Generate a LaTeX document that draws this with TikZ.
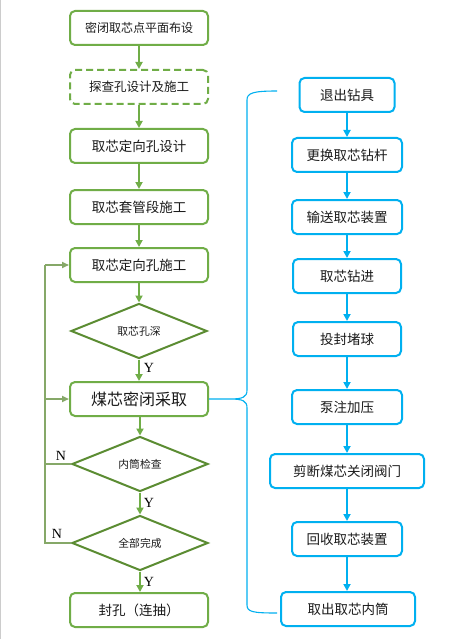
\documentclass[tikz,border=0pt]{standalone}
\usepackage{fontspec}
\setmainfont{Noto Sans CJK SC}
\newfontfamily\tnr{Liberation Serif}
\usetikzlibrary{shapes.geometric,arrows.meta}
\definecolor{gbox}{HTML}{70AD47}
\definecolor{gdia}{HTML}{5B8C32}
\definecolor{gloop}{HTML}{86A868}
\definecolor{bbox}{HTML}{00B0F0}
\definecolor{txt}{HTML}{1A1A1A}
\tikzset{
  gstep/.style={draw=gbox,line width=2pt,rounded corners=5pt,minimum width=138pt,minimum height=34pt,inner sep=0pt,text=txt,fill=white},
  gdiam/.style={draw=gdia,line width=2pt,diamond,aspect=2.5,minimum width=136pt,minimum height=55pt,inner sep=0pt,text=txt,font=\fontsize{10.8}{12}\selectfont},
  bstep/.style={draw=bbox,line width=2pt,rounded corners=5pt,minimum height=34pt,inner sep=0pt,text=txt,font=\fontsize{13.5}{16}\selectfont},
  garr/.style={draw=gbox,line width=2pt,-{Triangle[width=7pt,length=7pt]}},
  barr/.style={draw=bbox,line width=2pt,-{Triangle[width=7pt,length=7pt]}},
  gloopl/.style={draw=gloop,line width=1.6pt},
  lbl/.style={font=\tnr\fontsize{14}{16}\selectfont,text=black,inner sep=0pt},
}
\begin{document}
\begin{tikzpicture}[x=1pt,y=-1pt]
\useasboundingbox (0,0) rectangle (452,639);
\fill[white] (0,0) rectangle (452,639);
\draw[gray!40,line width=1pt] (0.5,0) -- (0.5,639);
% left column
\node[gstep,font=\fontsize{12}{14}\selectfont] (b1) at (139,28) {密闭取芯点平面布设};
\node[gstep,dashed,dash pattern=on 7pt off 4pt,font=\fontsize{12.5}{14}\selectfont] (b2) at (139,87) {探查孔设计及施工};
\node[gstep,font=\fontsize{13.5}{16}\selectfont] (b3) at (139,146) {取芯定向孔设计};
\node[gstep,font=\fontsize{13.5}{16}\selectfont] (b4) at (139,207) {取芯套管段施工};
\node[gstep,font=\fontsize{13.5}{16}\selectfont] (b5) at (139,265) {取芯定向孔施工};
\node[gdiam] (d1) at (139,331) {取芯孔深};
\node[gstep,font=\fontsize{16}{18}\selectfont] (b6) at (139,399) {煤芯密闭采取};
\node[gdiam] (d2) at (140,464) {内筒检查};
\node[gdiam] (d3) at (140,543) {全部完成};
\node[gstep,font=\fontsize{13.5}{16}\selectfont] (b7) at (139,610) {封孔（连抽）};
\draw[garr] (b1) -- (b2);
\draw[garr] (b2) -- (b3);
\draw[garr] (b3) -- (b4);
\draw[garr] (b4) -- (b5);
\draw[garr] (b5) -- (d1);
\draw[garr] (d1.south -| b6.north) -- (b6.north);
\draw[garr] (b6.south -| d2.north) -- (d2.north);
\draw[garr] (d2) -- (d3);
\draw[garr] (d3.south) -- (d3.south |- b7.north);
% loop
\coordinate (lx) at (45,0);
\draw[gloopl] (d3.west) -- (d3.west -| lx) -- (b5.west -| lx);
\draw[gloopl] (d2.west) -- (d2.west -| lx);
\draw[gloopl,-{Triangle[width=6pt,length=7pt]}] (b5.west -| lx) -- (b5.west);
\draw[gloopl,-{Triangle[width=6pt,length=7pt]}] (b6.west -| lx) -- (b6.west);
\node[lbl] (y1) at (149,368) {Y};
\node[lbl] (y2) at (149,503) {Y};
\node[lbl] (y3) at (149,582) {Y};
\node[lbl] (n1) at (61,456) {N};
\node[lbl] (n2) at (57,534) {N};
% right column
\node[bstep,minimum width=95pt] (r1) at (347,95) {退出钻具};
\node[bstep,minimum width=110pt] (r2) at (347,155) {更换取芯钻杆};
\node[bstep,minimum width=110pt] (r3) at (347,217) {输送取芯装置};
\node[bstep,minimum width=108pt] (r4) at (347,276) {取芯钻进};
\node[bstep,minimum width=108pt] (r5) at (347,339) {投封堵球};
\node[bstep,minimum width=110pt] (r6) at (347,407) {泵注加压};
\node[bstep,minimum width=154pt] (r7) at (347,471) {剪断煤芯关闭阀门};
\node[bstep,minimum width=110pt] (r8) at (347,539) {回收取芯装置};
\node[bstep,minimum width=134pt] (r9) at (348,609) {取出取芯内筒};
\draw[barr] (r1) -- (r2);
\draw[barr] (r2) -- (r3);
\draw[barr] (r3) -- (r4);
\draw[barr] (r4) -- (r5);
\draw[barr] (r5) -- (r6);
\draw[barr] (r6) -- (r7);
\draw[barr] (r7) -- (r8);
\draw[barr] (r8.south) -- (r8.south |- r9.north);
% brace
\draw[bbox,line width=1.1pt] (277,91) .. controls (253,91) and (247,93) .. (247,100)
  -- (247,390) .. controls (247,397) and (243,399) .. (230,399) -- (b6.east)
  (230,399) .. controls (243,399) and (247,401) .. (247,408)
  -- (247,605) .. controls (247,612) and (253,613) .. (277,613);
\end{tikzpicture}
\end{document}
